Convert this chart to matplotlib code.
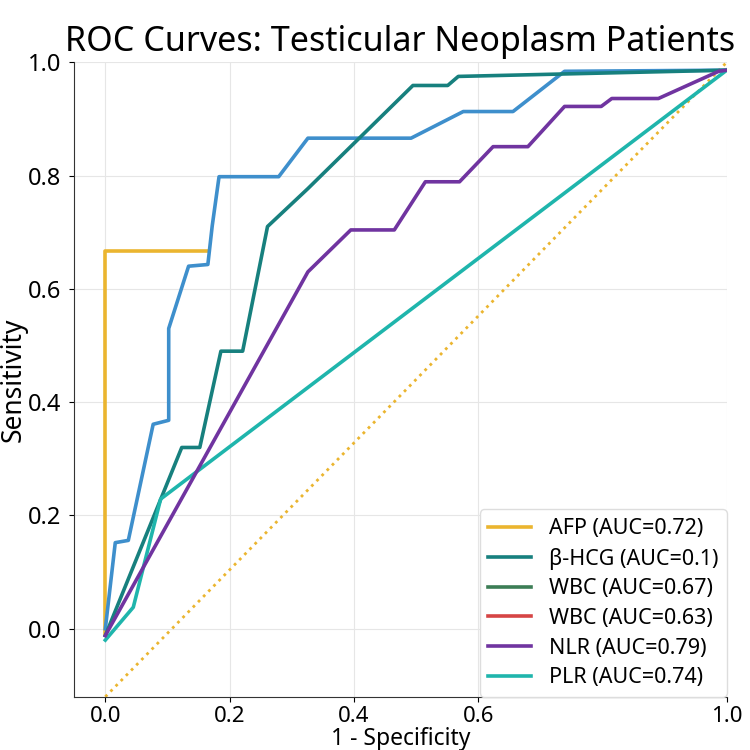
import matplotlib
matplotlib.use("Agg")
import matplotlib.pyplot as plt

plt.rcParams['font.family'] = ['Noto Sans', 'DejaVu Sans']

# Datos de las curvas (1 - especificidad, sensibilidad)
afp_x = [0.0, 0.0, 0.165]
afp_y = [-0.01, 0.667, 0.667]

hcg_x = [0.0, 0.123, 0.152, 0.186, 0.221, 0.261, 0.326, 0.495, 0.551, 0.568, 1.0]
hcg_y = [-0.012, 0.32, 0.32, 0.49, 0.49, 0.71, 0.777, 0.959, 0.959, 0.975, 0.986]

blue_x = [0.0, 0.016, 0.037, 0.077, 0.102, 0.102, 0.134, 0.165, 0.172, 0.183, 0.279, 0.326, 0.492, 0.576, 0.656, 0.739, 1.0]
blue_y = [0.0, 0.152, 0.156, 0.361, 0.368, 0.53, 0.64, 0.643, 0.711, 0.798, 0.798, 0.866, 0.866, 0.913, 0.913, 0.984, 0.986]

nlr_x = [0.0, 0.326, 0.395, 0.465, 0.515, 0.57, 0.624, 0.68, 0.739, 0.798, 0.815, 0.89, 0.987, 1.0]
nlr_y = [-0.012, 0.63, 0.704, 0.704, 0.789, 0.789, 0.851, 0.851, 0.922, 0.922, 0.936, 0.936, 0.984, 0.986]

plr_x = [0.0, 0.045, 0.089, 1.0]
plr_y = [-0.02, 0.038, 0.229, 0.986]

chance_x = [0.0, 1.0]
chance_y = [-0.12, 1.0]

labels = ["AFP (AUC=0.72)", "β-HCG (AUC=0.1)", "WBC (AUC=0.67)",
          "WBC (AUC=0.63)", "NLR (AUC=0.79)", "PLR (AUC=0.74)"]
xticks = [0.0, 0.2, 0.4, 0.6, 1.0]
yticks = [0.0, 0.2, 0.4, 0.6, 0.8, 1.0]

# Figura
fig = plt.figure(figsize=(7.5, 7.5), dpi=100)
ax = fig.add_axes([0.099, 0.071, 0.87, 0.846])

lw = 2.6
ax.plot(chance_x, chance_y, color='#EBB52F', linestyle=':', linewidth=2)
l_afp, = ax.plot(afp_x, afp_y, color='#EBB52F', linewidth=lw, label=labels[0])
ax.plot(blue_x, blue_y, color='#3E8FCC', linewidth=lw)
l_hcg, = ax.plot(hcg_x, hcg_y, color='#17807E', linewidth=lw, label=labels[1])
l_g, = ax.plot([], [], color='#3C7D55', linewidth=lw, label=labels[2])
l_r, = ax.plot([], [], color='#D64545', linewidth=lw, label=labels[3])
l_plr, = ax.plot(plr_x, plr_y, color='#1FB5AC', linewidth=lw)
l_nlr, = ax.plot(nlr_x, nlr_y, color='#7034A0', linewidth=lw, label=labels[4])
l_plr.set_label(labels[5])

ax.set_xlim(-0.05, 1.0)
ax.set_ylim(-0.12, 1.0)
ax.set_xticks(xticks)
ax.set_yticks(yticks)
ax.tick_params(axis='x', labelsize=16)
ax.tick_params(axis='y', labelsize=17, pad=6)
ax.grid(True, color='#e6e6e6', linewidth=0.8)
ax.spines['top'].set_visible(False)
ax.spines['right'].set_visible(False)
ax.spines['left'].set_color('#333333')
ax.spines['bottom'].set_color('#333333')

ax.set_title("ROC Curves: Testicular Neoplasm Patients", fontsize=24.5, pad=8)
ax.set_xlabel("1 - Specificity", fontsize=16.5, labelpad=0)
ax.set_ylabel("Sensitivity", fontsize=19, labelpad=0)

ax.legend(handles=[l_afp, l_hcg, l_g, l_r, l_nlr, l_plr], loc='lower right',
          fontsize=15.5, handlelength=2.0, labelspacing=0.4, framealpha=1,
          edgecolor='#dddddd', borderaxespad=0.0)

plt.savefig("out.png", dpi=100)
